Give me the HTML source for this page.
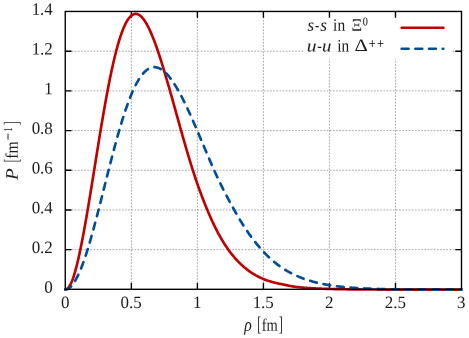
<!DOCTYPE html>
<html><head><meta charset="utf-8"><title>plot</title>
<style>html,body{margin:0;padding:0;background:#fff;}svg{display:block;will-change:transform;}text{font-family:"Liberation Serif",serif;fill:#1c1c1c;}</style></head><body>
<svg width="469" height="338" viewBox="0 0 469 338">
<rect width="469" height="338" fill="#fff"/>
<g stroke="#8a8a8a" stroke-width="0.75" stroke-dasharray="1.7 1.45" fill="none">
<path d="M131.38,289.3 V11.45"/>
<path d="M197.40,289.3 V11.45"/>
<path d="M263.43,289.3 V11.45"/>
<path d="M329.45,289.3 V11.45"/>
<path d="M395.48,289.3 V11.45"/>
<path d="M65.26,249.66 H461.5"/>
<path d="M65.26,209.97 H461.5"/>
<path d="M65.26,170.27 H461.5"/>
<path d="M65.26,130.58 H461.5"/>
<path d="M65.26,90.89 H461.5"/>
<path d="M65.26,51.20 H461.5"/>
</g>
<rect x="304" y="13" width="147" height="45.6" fill="#fff"/>
<g stroke="#000" stroke-width="1.38" fill="none">
<path d="M131.38,289.3 v-6.25 M131.38,11.45 v6.25"/>
<path d="M197.40,289.3 v-6.25 M197.40,11.45 v6.25"/>
<path d="M263.43,289.3 v-6.25 M263.43,11.45 v6.25"/>
<path d="M329.45,289.3 v-6.25 M329.45,11.45 v6.25"/>
<path d="M395.48,289.3 v-6.25 M395.48,11.45 v6.25"/>
<path d="M65.26,249.66 h6.25 M461.5,249.66 h-6.25"/>
<path d="M65.26,209.97 h6.25 M461.5,209.97 h-6.25"/>
<path d="M65.26,170.27 h6.25 M461.5,170.27 h-6.25"/>
<path d="M65.26,130.58 h6.25 M461.5,130.58 h-6.25"/>
<path d="M65.26,90.89 h6.25 M461.5,90.89 h-6.25"/>
<path d="M65.26,51.20 h6.25 M461.5,51.20 h-6.25"/>
</g>
<path d="M65.31,289.54 L66.02,289.42 L66.77,289.09 L67.47,288.59 L68.16,287.94 L68.83,287.12 L69.49,286.15 L70.14,285.04 L70.79,283.77 L71.44,282.36 L72.09,280.80 L72.73,279.11 L73.38,277.27 L74.02,275.31 L74.66,273.21 L75.31,270.98 L75.95,268.63 L76.60,266.16 L77.24,263.57 L77.89,260.87 L78.53,258.06 L79.18,255.15 L79.83,252.14 L80.48,249.03 L81.13,245.84 L81.78,242.55 L82.43,239.18 L83.09,235.73 L83.75,232.21 L84.40,228.62 L85.06,224.96 L85.72,221.24 L86.38,217.47 L87.04,213.64 L87.70,209.77 L88.36,205.85 L89.03,201.89 L89.69,197.89 L90.35,193.87 L91.01,189.81 L91.67,185.74 L92.33,181.64 L92.99,177.54 L93.65,173.42 L94.31,169.29 L94.97,165.17 L95.63,161.04 L96.29,156.92 L96.95,152.81 L97.61,148.71 L98.27,144.63 L98.93,140.56 L99.59,136.52 L100.25,132.51 L100.91,128.53 L101.57,124.58 L102.23,120.67 L102.89,116.79 L103.55,112.96 L104.21,109.17 L104.88,105.43 L105.54,101.75 L106.20,98.11 L106.86,94.53 L107.52,91.01 L108.18,87.55 L108.84,84.15 L109.50,80.82 L110.16,77.55 L110.82,74.36 L111.48,71.23 L112.14,68.17 L112.80,65.19 L113.46,62.29 L114.12,59.46 L114.78,56.71 L115.44,54.04 L116.10,51.45 L116.76,48.95 L117.42,46.52 L118.08,44.18 L118.74,41.93 L119.40,39.76 L120.06,37.68 L120.72,35.68 L121.39,33.77 L122.05,31.95 L122.71,30.22 L123.37,28.57 L124.03,27.02 L124.69,25.55 L125.35,24.17 L126.01,22.88 L126.67,21.68 L127.33,20.56 L127.99,19.54 L128.65,18.60 L129.31,17.75 L129.97,16.99 L130.63,16.31 L131.29,15.72 L131.95,15.21 L132.61,14.79 L133.27,14.45 L133.93,14.20 L134.59,14.02 L135.25,13.93 L135.91,13.92 L136.57,13.99 L137.24,14.13 L137.90,14.35 L138.56,14.65 L139.22,15.03 L139.88,15.47 L140.54,16.00 L141.20,16.59 L141.86,17.25 L142.52,17.98 L143.18,18.78 L143.84,19.64 L144.50,20.57 L145.16,21.56 L145.82,22.62 L146.48,23.73 L147.14,24.91 L147.80,26.14 L148.46,27.43 L149.12,28.77 L149.78,30.17 L150.44,31.61 L151.10,33.11 L151.76,34.66 L152.43,36.25 L153.09,37.89 L153.75,39.58 L154.41,41.31 L155.07,43.07 L155.73,44.88 L156.39,46.73 L157.05,48.61 L157.71,50.53 L158.37,52.48 L159.03,54.47 L159.69,56.48 L160.35,58.53 L161.01,60.60 L161.67,62.70 L162.33,64.83 L162.99,66.97 L163.65,69.14 L164.31,71.34 L164.97,73.55 L165.63,75.78 L166.29,78.02 L166.95,80.28 L167.61,82.56 L168.28,84.85 L168.94,87.15 L169.60,89.46 L170.26,91.79 L170.92,94.12 L171.58,96.45 L172.24,98.80 L172.89,101.14 L173.55,103.50 L174.21,105.85 L174.86,108.21 L175.52,110.57 L176.17,112.92 L176.83,115.28 L177.48,117.63 L178.14,119.98 L178.79,122.33 L179.44,124.67 L180.09,127.01 L180.75,129.34 L181.40,131.66 L182.05,133.97 L182.70,136.28 L183.36,138.57 L184.01,140.86 L184.66,143.13 L185.32,145.39 L185.97,147.64 L186.62,149.87 L187.28,152.10 L187.93,154.30 L188.59,156.49 L189.24,158.67 L189.90,160.83 L190.55,162.97 L191.21,165.10 L191.87,167.21 L192.53,169.30 L193.19,171.37 L193.85,173.42 L194.52,175.46 L195.18,177.47 L195.85,179.46 L196.53,181.44 L197.20,183.39 L197.87,185.32 L198.55,187.23 L199.23,189.11 L199.91,190.98 L200.59,192.82 L201.27,194.65 L201.95,196.45 L202.63,198.23 L203.31,199.98 L203.99,201.72 L204.67,203.43 L205.34,205.12 L206.02,206.79 L206.69,208.43 L207.37,210.06 L208.04,211.66 L208.71,213.24 L209.38,214.80 L210.05,216.33 L210.72,217.85 L211.39,219.34 L212.06,220.81 L212.73,222.25 L213.40,223.67 L214.07,225.08 L214.74,226.45 L215.41,227.81 L216.08,229.14 L216.75,230.46 L217.42,231.75 L218.09,233.01 L218.76,234.26 L219.43,235.48 L220.11,236.69 L220.78,237.87 L221.45,239.03 L222.12,240.17 L222.80,241.28 L223.47,242.38 L224.14,243.46 L224.82,244.51 L225.49,245.55 L226.17,246.56 L226.84,247.56 L227.51,248.53 L228.19,249.49 L228.86,250.43 L229.54,251.34 L230.21,252.24 L230.89,253.12 L231.57,253.98 L232.25,254.82 L232.92,255.64 L233.60,256.45 L234.27,257.24 L234.95,258.01 L235.62,258.76 L236.29,259.50 L236.96,260.23 L237.63,260.93 L238.30,261.63 L238.96,262.31 L239.62,262.98 L240.28,263.63 L240.94,264.27 L241.60,264.89 L242.26,265.50 L242.92,266.10 L243.58,266.68 L244.23,267.25 L244.89,267.80 L245.55,268.34 L246.20,268.87 L246.86,269.39 L247.52,269.90 L248.17,270.39 L248.83,270.87 L249.48,271.34 L250.14,271.80 L250.79,272.24 L251.44,272.68 L252.10,273.10 L252.75,273.52 L253.40,273.92 L254.06,274.32 L254.71,274.70 L255.36,275.08 L256.01,275.44 L256.66,275.80 L257.32,276.14 L257.97,276.48 L258.62,276.81 L259.27,277.13 L259.92,277.44 L260.57,277.75 L261.23,278.04 L261.88,278.33 L262.53,278.61 L263.18,278.89 L263.83,279.15 L264.48,279.41 L265.13,279.66 L265.79,279.91 L266.44,280.15 L267.09,280.38 L267.74,280.61 L268.39,280.82 L269.04,281.04 L269.70,281.24 L270.35,281.45 L271.00,281.64 L271.65,281.83 L272.30,282.02 L272.96,282.20 L273.61,282.37 L274.26,282.54 L274.91,282.71 L275.57,282.87 L276.22,283.02 L276.87,283.17 L277.52,283.32 L278.18,283.47 L278.83,283.61 L279.48,283.74 L280.14,283.87 L280.79,284.00 L281.44,284.13 L282.09,284.26 L282.74,284.40 L283.39,284.54 L284.04,284.67 L284.69,284.82 L285.34,284.96 L285.99,285.10 L286.64,285.24 L287.29,285.38 L287.94,285.52 L288.59,285.66 L289.24,285.79 L289.89,285.93 L290.54,286.05 L291.19,286.18 L291.85,286.30 L292.50,286.41 L293.16,286.52 L293.81,286.62 L294.47,286.71 L295.12,286.80 L295.78,286.88 L296.44,286.96 L297.10,287.04 L297.75,287.11 L298.41,287.18 L299.07,287.25 L299.73,287.32 L300.39,287.38 L301.04,287.45 L301.70,287.51 L302.36,287.57 L303.02,287.62 L303.68,287.68 L304.34,287.73 L305.00,287.79 L305.66,287.84 L306.32,287.88 L306.97,287.93 L307.63,287.98 L308.29,288.02 L308.95,288.07 L309.61,288.11 L310.27,288.15 L310.93,288.19 L311.59,288.22 L312.25,288.26 L312.91,288.30 L313.57,288.33 L314.23,288.36 L314.89,288.40 L315.55,288.43 L316.21,288.46 L316.87,288.49 L317.53,288.52 L318.19,288.55 L318.85,288.57 L319.51,288.60 L320.17,288.63 L320.83,288.65 L321.49,288.68 L322.15,288.70 L322.81,288.73 L323.47,288.75 L324.13,288.77 L324.79,288.79 L325.45,288.82 L326.11,288.84 L326.77,288.86 L327.43,288.88 L328.09,288.90 L328.75,288.92 L329.42,288.94 L330.08,288.95 L330.74,288.97 L331.40,288.99 L332.06,289.01 L332.72,289.02 L333.38,289.04 L334.04,289.06 L334.70,289.07 L335.36,289.09 L336.02,289.10 L336.68,289.12 L337.34,289.13 L338.00,289.14 L338.66,289.16 L339.32,289.17 L339.98,289.18 L340.64,289.20 L341.30,289.21 L341.96,289.22 L342.62,289.23 L343.28,289.24 L343.94,289.25 L344.60,289.27 L345.27,289.28 L345.93,289.29 L346.59,289.30 L347.25,289.31 L347.91,289.31 L348.57,289.32 L349.23,289.33 L349.89,289.34 L350.55,289.35 L351.21,289.36 L351.87,289.36 L352.53,289.37 L353.19,289.38 L353.85,289.38 L354.51,289.39 L355.17,289.40 L355.83,289.40 L356.49,289.41 L357.15,289.41 L357.81,289.42 L358.47,289.43 L359.13,289.43 L359.79,289.44 L360.46,289.44 L361.12,289.45 L361.78,289.45 L362.44,289.46 L363.10,289.46 L363.76,289.47 L364.42,289.47 L365.08,289.48 L365.74,289.48 L366.40,289.49 L367.06,289.49 L367.72,289.49 L368.38,289.50 L369.04,289.50 L369.70,289.51 L370.36,289.51 L371.02,289.52 L371.68,289.52 L372.34,289.52 L373.00,289.53 L373.66,289.53 L374.32,289.53 L374.99,289.54 L375.65,289.54 L376.31,289.54 L376.97,289.55 L377.63,289.55 L378.29,289.55 L378.95,289.56 L379.61,289.56 L380.27,289.56 L380.93,289.57 L381.59,289.57 L382.25,289.57 L382.91,289.57 L383.57,289.57 L384.23,289.58 L384.89,289.58 L385.55,289.58 L386.21,289.58 L386.87,289.58 L387.53,289.59 L388.19,289.59 L388.85,289.59 L389.51,289.59 L390.17,289.59 L390.84,289.59 L391.50,289.59 L392.16,289.59 L392.82,289.60 L393.48,289.60 L394.14,289.60 L394.80,289.60 L395.46,289.60 L396.12,289.60 L396.78,289.60 L397.44,289.60 L398.10,289.60 L398.76,289.60 L399.42,289.60 L400.08,289.60 L400.74,289.60 L401.40,289.60 L402.06,289.60 L402.72,289.60 L403.38,289.60 L404.04,289.60 L404.70,289.60 L405.36,289.60 L406.02,289.60 L406.69,289.60 L407.35,289.60 L408.01,289.60 L408.67,289.60 L409.33,289.60 L409.99,289.60 L410.65,289.60 L411.31,289.60 L411.97,289.60 L412.63,289.60 L413.29,289.60 L413.95,289.60 L414.61,289.60 L415.27,289.60 L415.93,289.60 L416.59,289.60 L417.25,289.60 L417.91,289.60 L418.57,289.60 L419.23,289.60 L419.89,289.60 L420.55,289.60 L421.21,289.60 L421.87,289.60 L422.54,289.60 L423.20,289.60 L423.86,289.60 L424.52,289.60 L425.18,289.60 L425.84,289.60 L426.50,289.60 L427.16,289.60 L427.82,289.60 L428.48,289.60 L429.14,289.60 L429.80,289.60 L430.46,289.60 L431.12,289.60 L431.78,289.60 L432.44,289.60 L433.10,289.60 L433.76,289.60 L434.42,289.60 L435.08,289.60 L435.74,289.60 L436.40,289.60 L437.06,289.60 L437.72,289.60 L438.39,289.60 L439.05,289.60 L439.71,289.60 L440.37,289.60 L441.03,289.60 L441.69,289.60 L442.35,289.60 L443.01,289.60 L443.67,289.60 L444.33,289.60 L444.99,289.60 L445.65,289.60 L446.31,289.60 L446.97,289.60 L447.63,289.60 L448.29,289.60 L448.95,289.60 L449.61,289.60 L450.27,289.60 L450.93,289.60 L451.59,289.60 L452.25,289.60 L452.91,289.60 L453.57,289.60 L454.24,289.60 L454.90,289.60 L455.56,289.60 L456.22,289.60 L456.88,289.60 L457.54,289.60 L458.20,289.60 L458.86,289.60 L459.52,289.60 L460.18,289.60 L460.84,289.60 L461.50,289.60" fill="none" stroke="#c00000" stroke-width="2.65" stroke-linecap="round" stroke-linejoin="round"/>
<path d="M65.27,289.55 L65.95,289.46 L66.63,289.30 L67.31,289.07 L67.97,288.78 L68.62,288.42 L69.26,288.00 L69.89,287.50 L70.52,286.95 L71.15,286.32 L71.77,285.63 L72.40,284.88 L73.02,284.05 L73.65,283.16 L74.28,282.20 L74.91,281.18 L75.54,280.09 L76.18,278.94 L76.83,277.72 L77.48,276.44 L78.13,275.09 L78.79,273.68 L79.45,272.21 L80.11,270.68 L80.77,269.09 L81.43,267.44 L82.09,265.73 L82.75,263.97 L83.42,262.15 L84.08,260.28 L84.74,258.35 L85.41,256.38 L86.07,254.36 L86.73,252.29 L87.40,250.18 L88.06,248.03 L88.73,245.83 L89.39,243.59 L90.06,241.32 L90.72,239.01 L91.39,236.66 L92.05,234.29 L92.72,231.88 L93.39,229.44 L94.06,226.98 L94.73,224.49 L95.40,221.97 L96.07,219.44 L96.74,216.88 L97.41,214.31 L98.08,211.72 L98.75,209.12 L99.42,206.50 L100.10,203.87 L100.77,201.23 L101.44,198.58 L102.11,195.93 L102.78,193.27 L103.45,190.61 L104.11,187.94 L104.78,185.28 L105.45,182.62 L106.11,179.96 L106.78,177.31 L107.45,174.66 L108.12,172.02 L108.78,169.39 L109.45,166.78 L110.12,164.17 L110.78,161.58 L111.45,159.01 L112.11,156.45 L112.78,153.91 L113.44,151.39 L114.11,148.89 L114.77,146.41 L115.44,143.96 L116.10,141.53 L116.76,139.12 L117.42,136.74 L118.08,134.39 L118.74,132.07 L119.40,129.78 L120.06,127.52 L120.72,125.29 L121.39,123.10 L122.05,120.93 L122.71,118.81 L123.37,116.72 L124.03,114.66 L124.69,112.64 L125.35,110.67 L126.01,108.72 L126.67,106.82 L127.33,104.96 L127.99,103.14 L128.65,101.36 L129.31,99.62 L129.97,97.93 L130.63,96.28 L131.29,94.67 L131.95,93.10 L132.61,91.58 L133.27,90.11 L133.93,88.67 L134.59,87.29 L135.25,85.95 L135.91,84.65 L136.57,83.40 L137.24,82.20 L137.90,81.04 L138.56,79.93 L139.22,78.87 L139.88,77.85 L140.54,76.88 L141.20,75.96 L141.86,75.08 L142.52,74.25 L143.18,73.47 L143.84,72.73 L144.50,72.04 L145.16,71.40 L145.82,70.80 L146.48,70.25 L147.14,69.74 L147.80,69.28 L148.46,68.86 L149.12,68.49 L149.78,68.17 L150.44,67.89 L151.10,67.65 L151.76,67.46 L152.43,67.31 L153.09,67.21 L153.75,67.15 L154.41,67.13 L155.07,67.15 L155.73,67.21 L156.39,67.32 L157.05,67.46 L157.71,67.65 L158.37,67.88 L159.03,68.14 L159.69,68.45 L160.35,68.79 L161.01,69.17 L161.67,69.59 L162.33,70.04 L162.99,70.53 L163.65,71.06 L164.31,71.62 L164.97,72.21 L165.63,72.84 L166.29,73.50 L166.95,74.20 L167.61,74.93 L168.28,75.68 L168.94,76.47 L169.60,77.29 L170.26,78.14 L170.92,79.02 L171.58,79.92 L172.24,80.86 L172.90,81.82 L173.56,82.80 L174.22,83.82 L174.88,84.85 L175.54,85.92 L176.20,87.00 L176.86,88.11 L177.52,89.24 L178.18,90.39 L178.84,91.57 L179.50,92.76 L180.16,93.98 L180.82,95.21 L181.48,96.46 L182.14,97.73 L182.80,99.02 L183.46,100.32 L184.12,101.64 L184.78,102.98 L185.44,104.33 L186.10,105.70 L186.76,107.08 L187.42,108.47 L188.07,109.87 L188.73,111.29 L189.38,112.72 L190.04,114.16 L190.69,115.61 L191.34,117.07 L191.99,118.54 L192.65,120.02 L193.30,121.50 L193.95,123.00 L194.60,124.50 L195.25,126.00 L195.90,127.52 L196.55,129.03 L197.20,130.56 L197.85,132.08 L198.50,133.61 L199.15,135.15 L199.80,136.68 L200.45,138.22 L201.10,139.76 L201.75,141.30 L202.39,142.84 L203.05,144.38 L203.70,145.93 L204.35,147.47 L205.00,149.01 L205.65,150.55 L206.30,152.08 L206.95,153.62 L207.61,155.15 L208.26,156.68 L208.91,158.21 L209.57,159.73 L210.22,161.25 L210.88,162.76 L211.54,164.27 L212.19,165.77 L212.85,167.27 L213.51,168.76 L214.17,170.25 L214.83,171.73 L215.50,173.20 L216.17,174.66 L216.84,176.12 L217.51,177.56 L218.19,179.00 L218.87,180.43 L219.55,181.85 L220.23,183.26 L220.91,184.67 L221.60,186.06 L222.28,187.44 L222.97,188.82 L223.66,190.18 L224.34,191.54 L225.03,192.88 L225.72,194.22 L226.41,195.54 L227.10,196.86 L227.78,198.16 L228.47,199.46 L229.16,200.74 L229.84,202.02 L230.52,203.28 L231.21,204.54 L231.89,205.78 L232.56,207.01 L233.24,208.24 L233.91,209.45 L234.59,210.65 L235.26,211.85 L235.93,213.03 L236.60,214.20 L237.27,215.35 L237.94,216.50 L238.61,217.64 L239.28,218.76 L239.95,219.87 L240.61,220.97 L241.28,222.06 L241.95,223.13 L242.62,224.20 L243.29,225.25 L243.96,226.29 L244.63,227.32 L245.29,228.33 L245.96,229.34 L246.63,230.33 L247.29,231.31 L247.96,232.28 L248.63,233.24 L249.29,234.18 L249.96,235.12 L250.62,236.04 L251.29,236.95 L251.95,237.85 L252.61,238.74 L253.28,239.61 L253.94,240.48 L254.60,241.33 L255.27,242.17 L255.93,243.01 L256.59,243.83 L257.25,244.64 L257.91,245.43 L258.57,246.22 L259.23,247.00 L259.89,247.76 L260.55,248.52 L261.20,249.26 L261.86,250.00 L262.52,250.72 L263.18,251.43 L263.83,252.14 L264.49,252.83 L265.15,253.51 L265.80,254.18 L266.46,254.84 L267.12,255.49 L267.77,256.14 L268.43,256.77 L269.08,257.39 L269.74,258.00 L270.40,258.60 L271.05,259.20 L271.71,259.78 L272.36,260.35 L273.02,260.92 L273.67,261.47 L274.33,262.02 L274.99,262.56 L275.64,263.09 L276.30,263.61 L276.95,264.12 L277.61,264.62 L278.26,265.11 L278.92,265.60 L279.57,266.07 L280.23,266.54 L280.89,267.00 L281.54,267.45 L282.20,267.90 L282.85,268.33 L283.51,268.76 L284.17,269.18 L284.82,269.59 L285.48,270.00 L286.14,270.40 L286.79,270.79 L287.45,271.17 L288.11,271.54 L288.77,271.91 L289.42,272.27 L290.08,272.62 L290.74,272.96 L291.40,273.30 L292.06,273.63 L292.71,273.96 L293.37,274.28 L294.03,274.60 L294.69,274.90 L295.34,275.21 L296.00,275.50 L296.65,275.80 L297.31,276.08 L297.97,276.37 L298.62,276.65 L299.28,276.92 L299.93,277.19 L300.59,277.45 L301.24,277.71 L301.90,277.97 L302.55,278.22 L303.20,278.46 L303.86,278.70 L304.51,278.94 L305.17,279.17 L305.82,279.40 L306.47,279.63 L307.13,279.85 L307.78,280.07 L308.44,280.28 L309.09,280.49 L309.75,280.69 L310.40,280.89 L311.06,281.09 L311.71,281.28 L312.37,281.47 L313.02,281.66 L313.68,281.84 L314.33,282.02 L314.99,282.19 L315.64,282.36 L316.30,282.53 L316.95,282.69 L317.61,282.85 L318.27,283.01 L318.92,283.16 L319.58,283.31 L320.24,283.46 L320.89,283.60 L321.55,283.74 L322.21,283.88 L322.87,284.01 L323.52,284.14 L324.18,284.26 L324.84,284.39 L325.50,284.51 L326.16,284.63 L326.81,284.74 L327.47,284.86 L328.13,284.97 L328.79,285.08 L329.45,285.18 L330.11,285.29 L330.77,285.39 L331.42,285.49 L332.08,285.59 L332.74,285.68 L333.40,285.77 L334.06,285.87 L334.72,285.95 L335.38,286.04 L336.04,286.13 L336.70,286.21 L337.36,286.29 L338.01,286.37 L338.67,286.45 L339.33,286.52 L339.99,286.60 L340.65,286.67 L341.31,286.74 L341.97,286.81 L342.63,286.88 L343.29,286.94 L343.95,287.01 L344.61,287.07 L345.27,287.13 L345.93,287.19 L346.59,287.25 L347.25,287.31 L347.91,287.37 L348.57,287.42 L349.23,287.47 L349.89,287.53 L350.55,287.58 L351.21,287.63 L351.87,287.68 L352.53,287.73 L353.19,287.77 L353.85,287.82 L354.51,287.86 L355.17,287.91 L355.83,287.95 L356.49,287.99 L357.15,288.03 L357.81,288.07 L358.47,288.11 L359.13,288.15 L359.79,288.18 L360.45,288.22 L361.11,288.26 L361.77,288.29 L362.43,288.32 L363.09,288.36 L363.75,288.39 L364.41,288.42 L365.07,288.45 L365.73,288.48 L366.39,288.51 L367.05,288.54 L367.71,288.57 L368.38,288.59 L369.04,288.62 L369.70,288.65 L370.36,288.67 L371.02,288.70 L371.68,288.72 L372.34,288.75 L373.00,288.77 L373.66,288.79 L374.32,288.82 L374.98,288.84 L375.64,288.86 L376.30,288.88 L376.96,288.90 L377.62,288.93 L378.28,288.95 L378.94,288.97 L379.60,288.99 L380.26,289.01 L380.92,289.02 L381.58,289.04 L382.24,289.06 L382.90,289.08 L383.57,289.10 L384.23,289.11 L384.89,289.13 L385.55,289.15 L386.21,289.16 L386.87,289.18 L387.53,289.20 L388.19,289.21 L388.85,289.23 L389.51,289.24 L390.17,289.25 L390.83,289.27 L391.49,289.28 L392.15,289.29 L392.81,289.31 L393.47,289.32 L394.13,289.33 L394.79,289.34 L395.45,289.35 L396.11,289.36 L396.78,289.37 L397.44,289.38 L398.10,289.39 L398.76,289.40 L399.42,289.41 L400.08,289.42 L400.74,289.43 L401.40,289.44 L402.06,289.45 L402.72,289.45 L403.38,289.46 L404.04,289.47 L404.70,289.47 L405.36,289.48 L406.02,289.48 L406.68,289.49 L407.34,289.49 L408.00,289.50 L408.66,289.50 L409.32,289.50 L409.99,289.51 L410.65,289.51 L411.31,289.51 L411.97,289.51 L412.63,289.52 L413.29,289.52 L413.95,289.52 L414.61,289.53 L415.27,289.53 L415.93,289.53 L416.59,289.53 L417.25,289.54 L417.91,289.54 L418.57,289.54 L419.23,289.54 L419.89,289.54 L420.55,289.55 L421.21,289.55 L421.87,289.55 L422.53,289.55 L423.19,289.55 L423.86,289.55 L424.52,289.56 L425.18,289.56 L425.84,289.56 L426.50,289.56 L427.16,289.56 L427.82,289.56 L428.48,289.56 L429.14,289.57 L429.80,289.57 L430.46,289.57 L431.12,289.57 L431.78,289.57 L432.44,289.57 L433.10,289.57 L433.76,289.57 L434.42,289.57 L435.08,289.57 L435.74,289.58 L436.40,289.58 L437.06,289.58 L437.72,289.58 L438.38,289.58 L439.05,289.58 L439.71,289.58 L440.37,289.58 L441.03,289.58 L441.69,289.58 L442.35,289.58 L443.01,289.58 L443.67,289.58 L444.33,289.58 L444.99,289.59 L445.65,289.59 L446.31,289.59 L446.97,289.59 L447.63,289.59 L448.29,289.59 L448.95,289.59 L449.61,289.59 L450.27,289.59 L450.93,289.59 L451.59,289.59 L452.25,289.59 L452.91,289.59 L453.57,289.59 L454.24,289.59 L454.90,289.59 L455.56,289.59 L456.22,289.59 L456.88,289.59 L457.54,289.59 L458.20,289.59 L458.86,289.59 L459.52,289.59 L460.18,289.59 L460.84,289.59 L461.50,289.59" fill="none" stroke="#004e98" stroke-width="2.65" stroke-linecap="round" stroke-linejoin="round" stroke-dasharray="6.86 6.815"/>
<path d="M401.7,27.75 H443.4" stroke="#c00000" stroke-width="2.65" stroke-linecap="round"/>
<path d="M401.7,48.7 H443.4" stroke="#004e98" stroke-width="2.65" stroke-linecap="round" stroke-dasharray="6.86 6.815"/>
<rect x="65.26" y="11.45" width="396.24" height="277.85" stroke="#000" stroke-width="1.38" fill="none"/>
<g font-size="17.3px">
<text transform="translate(52.8,292.65) scale(0.98,1) rotate(0.03)" text-anchor="end">0</text>
<text transform="translate(52.8,252.96) scale(0.98,1) rotate(0.03)" text-anchor="end">0.2</text>
<text transform="translate(52.8,213.27) scale(0.98,1) rotate(0.03)" text-anchor="end">0.4</text>
<text transform="translate(52.8,173.57) scale(0.98,1) rotate(0.03)" text-anchor="end">0.6</text>
<text transform="translate(52.8,133.88) scale(0.98,1) rotate(0.03)" text-anchor="end">0.8</text>
<text transform="translate(52.8,94.19) scale(0.98,1) rotate(0.03)" text-anchor="end">1</text>
<text transform="translate(52.8,54.50) scale(0.98,1) rotate(0.03)" text-anchor="end">1.2</text>
<text transform="translate(52.8,14.81) scale(0.98,1) rotate(0.03)" text-anchor="end">1.4</text>
<text transform="translate(65.15,308.0) scale(0.98,1) rotate(0.03)" text-anchor="middle">0</text>
<text transform="translate(131.18,308.0) scale(0.98,1) rotate(0.03)" text-anchor="middle">0.5</text>
<text transform="translate(197.20,308.0) scale(0.98,1) rotate(0.03)" text-anchor="middle">1</text>
<text transform="translate(263.23,308.0) scale(0.98,1) rotate(0.03)" text-anchor="middle">1.5</text>
<text transform="translate(329.25,308.0) scale(0.98,1) rotate(0.03)" text-anchor="middle">2</text>
<text transform="translate(395.28,308.0) scale(0.98,1) rotate(0.03)" text-anchor="middle">2.5</text>
<text transform="translate(461.30,308.0) scale(0.98,1) rotate(0.03)" text-anchor="middle">3</text>
</g>
<text transform="translate(307.40,30.70) scale(0.957,1) rotate(0.03)" font-size="17.6px" font-style="italic">s</text>
<text transform="translate(314.90,30.70) scale(0.717,1) rotate(0.03)" font-size="17.6px">-</text>
<text transform="translate(320.30,30.70) scale(0.986,1) rotate(0.03)" font-size="17.6px" font-style="italic">s</text>
<text transform="translate(333.10,30.70) scale(0.878,1) rotate(0.03)" font-size="17.6px">in</text>
<text transform="translate(351.50,30.70) scale(0.936,1) rotate(0.03)" font-size="17.6px">Ξ</text>
<text transform="translate(362.80,25.60) scale(0.850,1) rotate(0.03)" font-size="12px" stroke="#1c1c1c" stroke-width="0.1">0</text>
<text transform="translate(306.70,51.40) scale(1.111,1) rotate(0.03)" font-size="17.6px" font-style="italic">u</text>
<text transform="translate(317.20,51.40) scale(0.783,1) rotate(0.03)" font-size="17.6px">-</text>
<text transform="translate(322.00,51.40) scale(1.067,1) rotate(0.03)" font-size="17.6px" font-style="italic">u</text>
<text transform="translate(337.30,51.40) scale(0.871,1) rotate(0.03)" font-size="17.6px">in</text>
<text transform="translate(354.60,51.40) scale(1.182,1) rotate(0.03)" font-size="17.6px">Δ</text>
<text transform="translate(368.90,48.20) scale(0.825,1) rotate(0.03)" font-size="14px" stroke="#1c1c1c" stroke-width="0.25">+</text>
<text transform="translate(377.30,48.20) scale(0.825,1) rotate(0.03)" font-size="14px" stroke="#1c1c1c" stroke-width="0.25">+</text>
<text transform="translate(244.35,330.70) scale(0.850,1) rotate(0.03)" font-size="18.5px" font-style="italic">ρ</text>
<text transform="translate(257.23,330.80) scale(0.567,1) rotate(0.03)" font-size="20.4px">[</text>
<text transform="translate(261.70,330.70) scale(0.821,1) rotate(0.03)" font-size="17.6px">fm</text>
<text transform="translate(279.10,330.80) scale(0.567,1) rotate(0.03)" font-size="20.4px">]</text>
<g transform="translate(17.8,181.0) rotate(-90)">
<text transform="translate(0.88,0.00) scale(1.083,1) rotate(0.03)" font-size="17.6px" font-style="italic">P</text>
<text transform="translate(18.72,0.10) scale(0.483,1) rotate(0.03)" font-size="20.4px">[</text>
<text transform="translate(22.20,0.00) scale(0.886,1) rotate(0.03)" font-size="17.6px">fm</text>
<text transform="translate(41.10,-5.90) scale(1.029,1) rotate(0.03)" font-size="12px" stroke="#1c1c1c" stroke-width="0.25">−</text>
<text transform="translate(49.52,-5.90) scale(0.680,1) rotate(0.03)" font-size="12px" stroke="#1c1c1c" stroke-width="0.1">1</text>
<text transform="translate(55.70,0.10) scale(0.583,1) rotate(0.03)" font-size="20.4px">]</text>
</g>
</svg></body></html>
